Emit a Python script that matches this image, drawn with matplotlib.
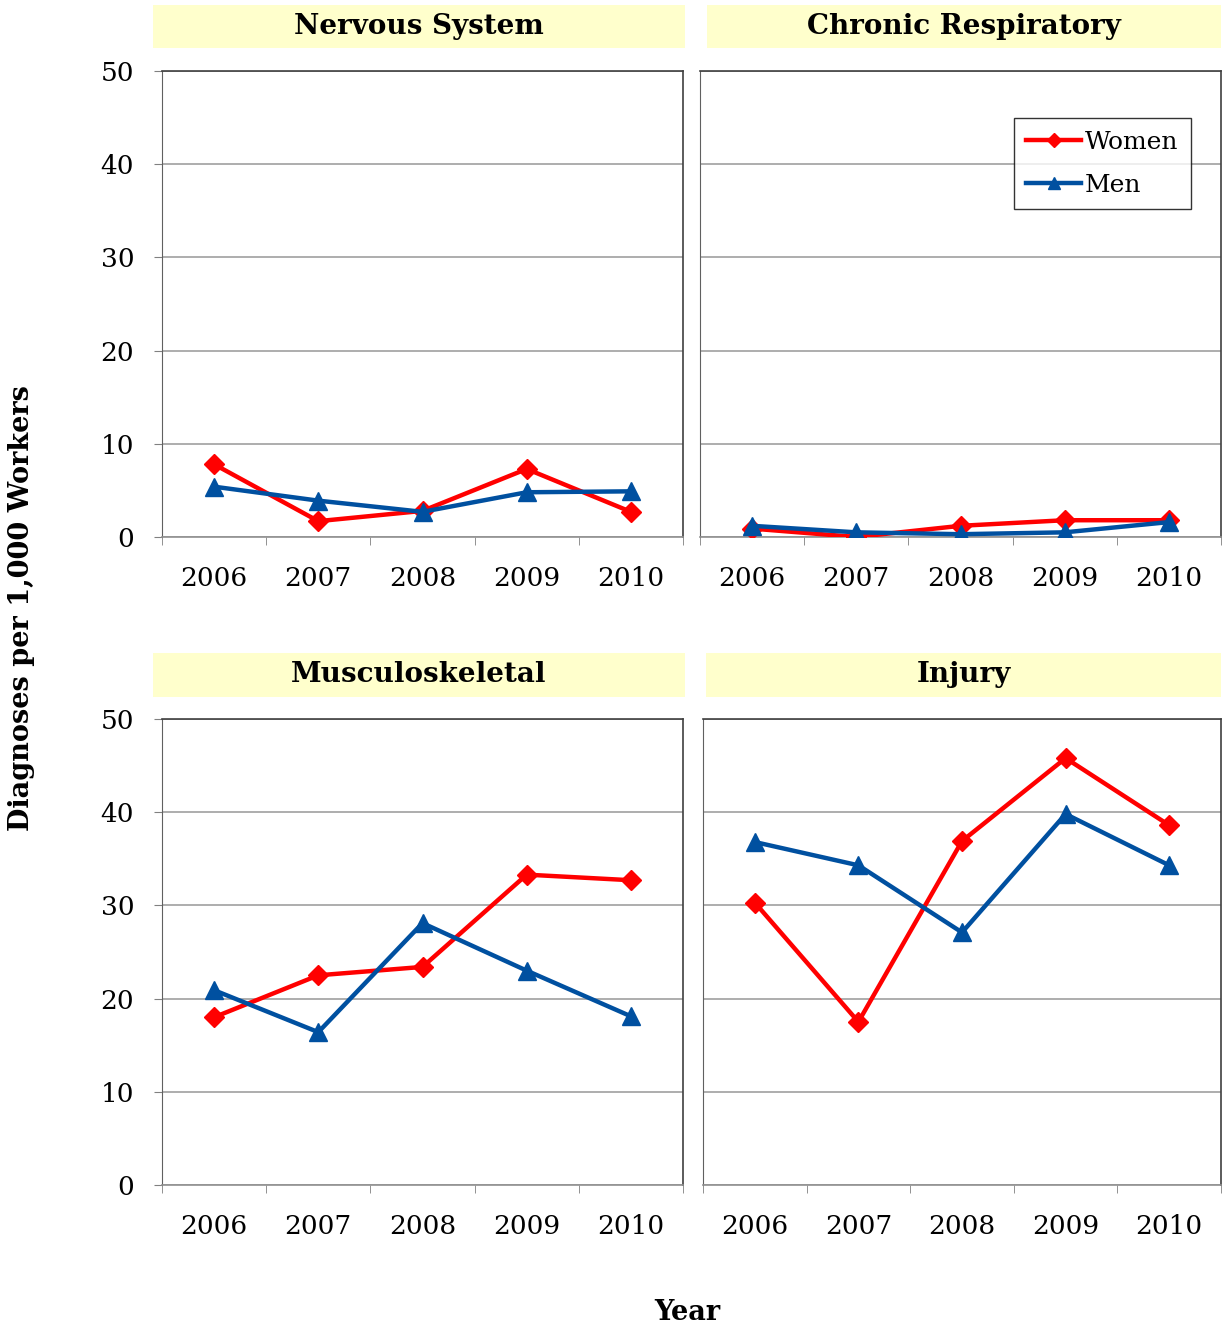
import numpy as np
import matplotlib.pyplot as plt
from matplotlib.patches import Rectangle

plt.rcParams['font.family'] = ['DejaVu Serif']

years = ['2006', '2007', '2008', '2009', '2010']

titles = ['Nervous System', 'Chronic Respiratory', 'Musculoskeletal', 'Injury']

women = [
    [7.8, 1.7, 2.8, 7.3, 2.7],
    [0.9, 0.0, 1.2, 1.8, 1.8],
    [18.0, 22.5, 23.4, 33.3, 32.7],
    [30.3, 17.5, 36.9, 45.8, 38.6],
]
men = [
    [5.4, 3.9, 2.7, 4.8, 4.9],
    [1.2, 0.5, 0.3, 0.5, 1.6],
    [20.9, 16.4, 28.1, 23.0, 18.1],
    [36.8, 34.3, 27.1, 39.8, 34.3],
]

W, H = 1222, 1329
fig = plt.figure(figsize=(W / 100, H / 100), dpi=100)

# axes boxes in pixels: left, top, right, bottom
boxes = [(162, 71, 683, 537), (700, 71, 1221, 537),
         (162, 719, 683, 1185), (703, 719, 1221, 1185)]
# title boxes
tboxes = [(153, 5, 685, 48), (707, 5, 1221, 48),
          (153, 653, 685, 697), (706, 653, 1221, 697)]

red = '#FF0000'
blue = '#0050A0'
x = np.arange(len(years))

for i in range(4):
    l, t, r, b = boxes[i]
    ax = fig.add_axes([l / W, 1 - b / H, (r - l) / W, (b - t) / H])
    ax.plot(x, women[i], color=red, lw=3.2, marker='D', ms=10, label='Women', zorder=3)
    ax.plot(x, men[i], color=blue, lw=3.2, marker='^', ms=13, label='Men', zorder=3)
    ax.set_xlim(-0.5, 4.5)
    ax.set_ylim(0, 50)
    ax.set_yticks([0, 10, 20, 30, 40, 50])
    ax.yaxis.grid(True, color='#A0A0A0', lw=1.2)
    ax.set_axisbelow(True)
    ax.set_xticks(x)
    ax.set_xticklabels(years, fontsize=19)
    ax.set_xticks(np.arange(-0.5, 5, 1), minor=True)
    ax.tick_params(axis='x', which='major', length=0, pad=21)
    ax.tick_params(axis='x', which='minor', length=6, color='#808080', direction='out')
    if i % 2 == 0:
        ax.tick_params(axis='y', length=6, color='#808080', labelsize=19, pad=14)
    else:
        ax.tick_params(axis='y', length=0, labelleft=False)
    for s in ['top', 'right']:
        ax.spines[s].set_color('#404040')
        ax.spines[s].set_linewidth(1.2)
    ax.spines['left'].set_color('#606060')
    ax.spines['bottom'].set_color('#909090')
    ax.spines['bottom'].set_linewidth(1.2)
    if i == 1:
        leg = ax.legend(loc='upper right', bbox_to_anchor=(0.942, 0.899), fontsize=18,
                        frameon=True, fancybox=False, edgecolor='black',
                        handlelength=2.2, borderpad=0.5, labelspacing=0.8,
                        handletextpad=0.15, borderaxespad=0, markerscale=0.7)
        leg.get_frame().set_linewidth(1.0)

    tl, tt, tr, tb = tboxes[i]
    fig.patches.append(Rectangle((tl / W, 1 - tb / H), (tr - tl) / W, (tb - tt) / H,
                                 transform=fig.transFigure, facecolor='#FFFFCC',
                                 edgecolor='none', zorder=0))
    fig.text((tl + tr) / 2 / W, 1 - (tt + tb) / 2 / H, titles[i], ha='center', va='center',
             fontsize=20, fontweight='bold')

fig.text(22 / W, 1 - 608 / H, 'Diagnoses per 1,000 Workers', rotation=90,
         ha='center', va='center', fontsize=19.5, fontweight='bold')
fig.text(687 / W, 1 - 1313 / H, 'Year', ha='center', va='center',
         fontsize=19.5, fontweight='bold')

fig.savefig('out.png', dpi=100)
